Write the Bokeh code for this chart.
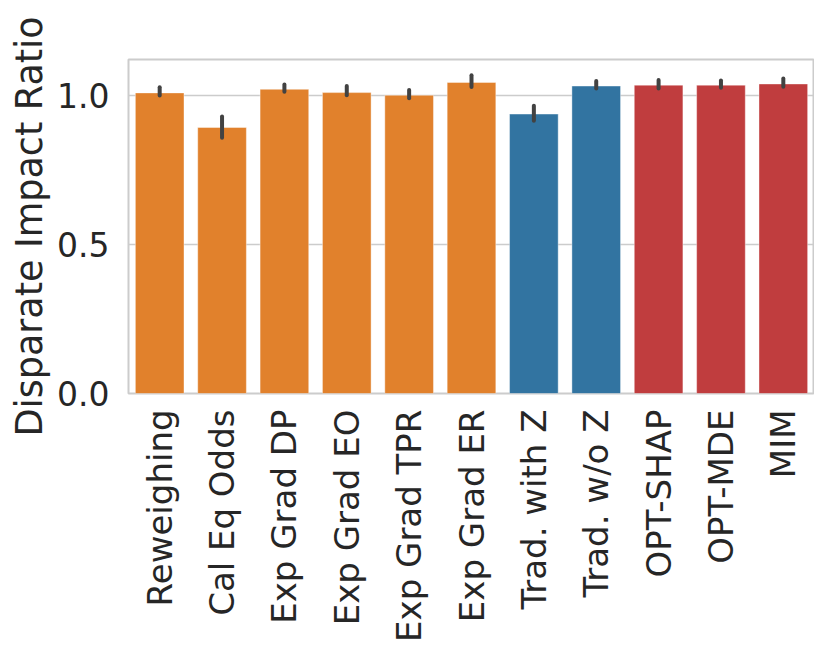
import math
from bokeh.plotting import figure
from bokeh.models import ColumnDataSource, FactorRange, FixedTicker, PrintfTickFormatter, Range1d
from bokeh.embed import file_html
from bokeh.resources import INLINE

methods = ["Reweighing", "Cal Eq Odds", "Exp Grad DP", "Exp Grad EO", "Exp Grad TPR",
           "Exp Grad ER", "Trad. with Z", "Trad. w/o Z", "OPT-SHAP", "OPT-MDE", "MIM"]
means = [1.008, 0.892, 1.020, 1.009, 1.000, 1.043, 0.937, 1.031, 1.034, 1.034, 1.038]
ci_low = [0.999, 0.858, 1.012, 1.000, 0.990, 1.028, 0.915, 1.023, 1.023, 1.025, 1.029]
ci_high = [1.027, 0.929, 1.036, 1.031, 1.018, 1.067, 0.965, 1.048, 1.051, 1.050, 1.056]
groups = ["baseline"] * 6 + ["traditional"] * 2 + ["ours"] * 3
group_colors = {"baseline": "#e1812c", "traditional": "#3274a1", "ours": "#c03d3e"}
y_ticks = [0.0, 0.5, 1.0]

colors = [group_colors[g] for g in groups]
src = ColumnDataSource(dict(x=methods, top=means, lo=ci_low, hi=ci_high, color=colors))

p = figure(x_range=FactorRange(factors=methods), y_range=Range1d(0, 1.12),
           width=814, height=644, output_backend="svg", toolbar_location=None,
           min_border_left=128, min_border_right=0, min_border_top=59, min_border_bottom=251)

p.vbar(x="x", top="top", width=0.78, source=src, fill_color="color",
       line_color="white", line_alpha=0.4, line_width=1)
p.segment(x0="x", y0="lo", x1="x", y1="hi", source=src, line_color="#424242",
          line_width=4, line_cap="round")

font = "DejaVu Sans"
txt = "#262626"
p.outline_line_color = "#cccccc"
p.outline_line_width = 2
p.background_fill_color = "white"
p.border_fill_color = "white"

p.xgrid.grid_line_color = None
p.ygrid.grid_line_color = "#cccccc"
p.ygrid.grid_line_width = 1.5
p.yaxis.ticker = FixedTicker(ticks=y_ticks)
p.yaxis.formatter = PrintfTickFormatter(format="%.1f")

for ax in [p.xaxis, p.yaxis]:
    ax.axis_line_color = None
    ax.major_tick_line_color = None
    ax.minor_tick_line_color = None
    ax.major_label_text_font = font
    ax.major_label_text_color = txt
    ax.major_label_text_font_size = "33px"

p.yaxis.major_label_standoff = 13
p.xaxis.major_label_standoff = 10
p.xaxis.major_label_text_font_size = "34px"
p.xaxis.major_label_orientation = math.pi / 2
p.yaxis.axis_label = "Disparate Impact Ratio"
p.yaxis.axis_label_text_font = font
p.yaxis.axis_label_text_font_style = "normal"
p.yaxis.axis_label_text_font_size = "36.5px"
p.yaxis.axis_label_text_color = txt
p.yaxis.axis_label_standoff = 3

open("out.html", "w").write(file_html(p, INLINE))
